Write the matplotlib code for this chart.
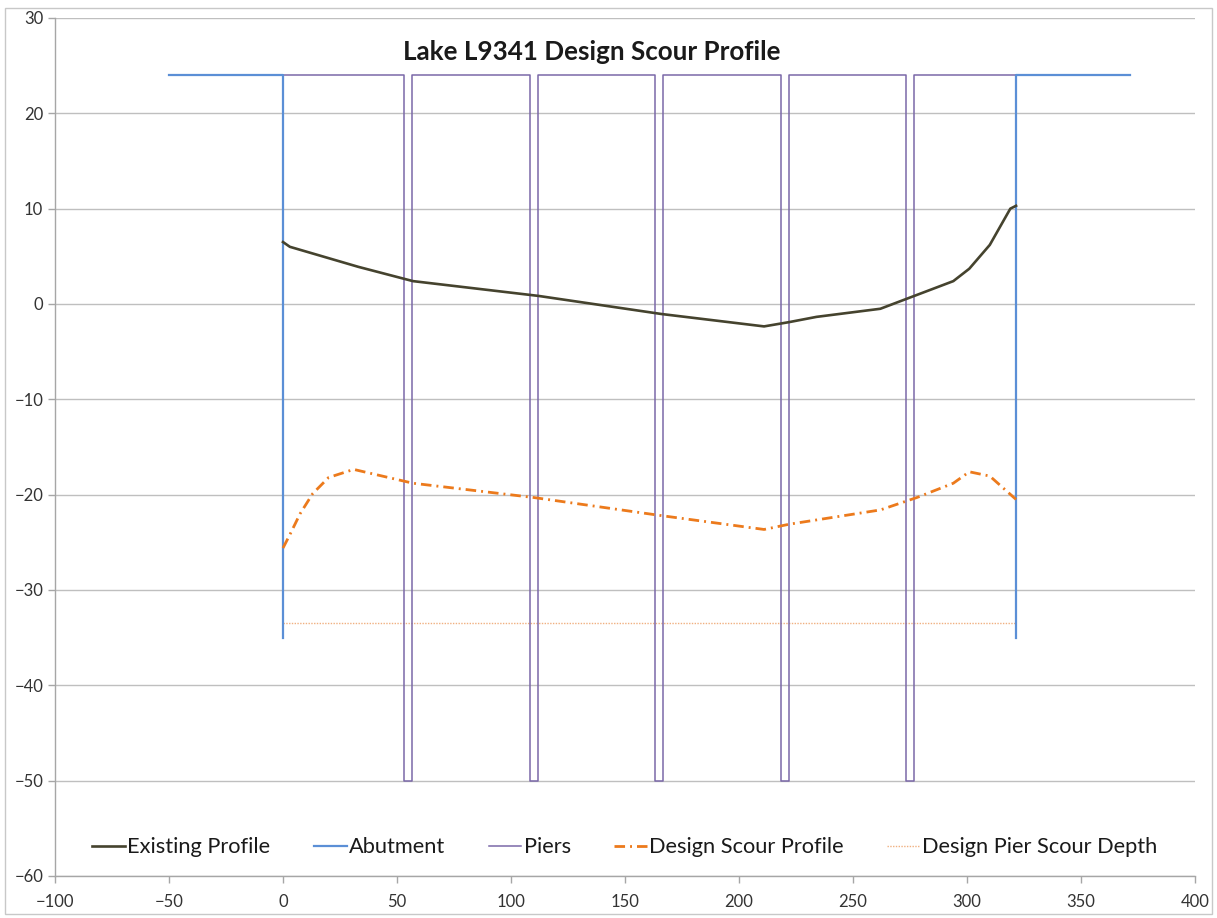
import matplotlib
matplotlib.use("Agg")
import matplotlib.pyplot as plt
import numpy as np
from matplotlib.patches import Rectangle

# ---- data ----
existing_x = [0, 3, 33, 57, 112, 166, 211, 222, 234, 262, 278, 294, 301, 310, 319, 321.5]
existing_y = [6.5, 6.0, 3.9, 2.4, 0.85, -1.05, -2.35, -1.9, -1.35, -0.5, 0.95, 2.4, 3.7, 6.2, 10.0, 10.3]

abut_x = [-50, 0, 0, np.nan, 321.5, 321.5, 371.5]
abut_y = [24, 24, -35, np.nan, -35, 24, 24]

pier_centers = [55, 110, 165, 220, 275]
pier_half_width = 1.75
deck_elev = 24
pier_bottom = -50
deck_start, deck_end = 0, 321.5

scour_x = [0, 3, 7.5, 13, 20, 31, 57, 110, 166, 211, 222, 262, 278, 294, 301, 310, 321.5]
scour_y = [-25.6, -24.2, -22, -19.9, -18.2, -17.35, -18.8, -20.3, -22.2, -23.65, -23.1,
           -21.6, -20.3, -18.8, -17.6, -18.05, -20.5]

pier_scour_x = [0, 321.5]
pier_scour_y = [-33.5, -33.5]

xticks = list(range(-100, 401, 50))
yticks = list(range(-60, 31, 10))

title = "Lake L9341 Design Scour Profile"

# build pier outline
px = [deck_start]
py = [deck_elev]
for c in pier_centers:
    l, r = c - pier_half_width, c + pier_half_width
    px += [l, l, r, r]
    py += [deck_elev, pier_bottom, pier_bottom, deck_elev]
px.append(deck_end)
py.append(deck_elev)

plt.rcParams['font.family'] = ['Lato', 'DejaVu Sans']

fig = plt.figure(figsize=(12.17, 9.18), dpi=100)
ax = fig.add_axes([55/1217, 1-876/918, (1195-55)/1217, (876-18)/918])

grid_c = '#bfbfbf'
ax.plot(existing_x, existing_y, color='#45432e', lw=1.9, label='Existing Profile', zorder=5)
ax.plot(abut_x, abut_y, color='#5b8fd6', lw=1.6, label='Abutment', zorder=4)
ax.plot(px, py, color='#7a68a8', lw=1.1, label='Piers', zorder=3)
ax.plot(scour_x, scour_y, color='#ec7a1c', lw=2.0, linestyle=(0, (3.8, 1.8, 0.7, 1.8)),
        label='Design Scour Profile', zorder=5)
ax.plot(pier_scour_x, pier_scour_y, color='#f0b080', lw=1.0, linestyle=(0, (1, 1)),
        label='Design Pier Scour Depth', zorder=2)

ax.set_xlim(-100, 400)
ax.set_ylim(-60, 30)
ax.set_xticks(xticks)
ax.set_yticks(yticks)
ax.grid(axis='y', color=grid_c, lw=1.0)
ax.set_axisbelow(True)
for s in ['top', 'right']:
    ax.spines[s].set_visible(False)
for s in ['left', 'bottom']:
    ax.spines[s].set_color('#a6a6a6')
    ax.spines[s].set_linewidth(1.0)
ax.tick_params(axis='both', direction='out', length=5, color='#a6a6a6', labelsize=12,
               labelcolor='#333333', width=1.0)
ax.tick_params(axis='x', pad=8)

ax.text(135.5, 26.4, title, ha='center', va='center', fontsize=18.7, fontweight='bold', color='#1a1a1a')

leg = ax.legend(loc='center', bbox_to_anchor=(0.5, 3.0/90),
                ncol=5, frameon=False, fontsize=15.7, handlelength=1.5, handletextpad=0.1,
                columnspacing=2.0)
for t in leg.get_texts():
    t.set_color('#1a1a1a')

fig.patches.append(Rectangle((5/1217, 4/918), 1-10/1217, 1-12/918, transform=fig.transFigure,
                             fill=False, edgecolor='#c8c8c8', lw=1.0))

fig.savefig('out.png', dpi=100)
